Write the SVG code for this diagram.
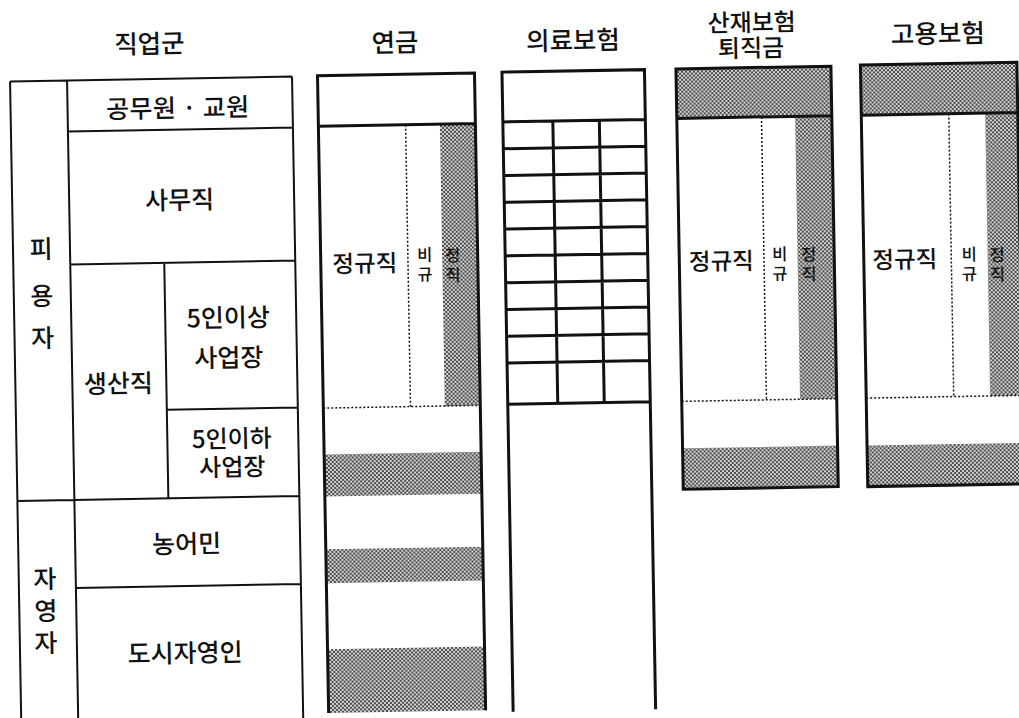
<svg xmlns="http://www.w3.org/2000/svg" width="1019" height="718" viewBox="0 0 1019 718">
<defs>
<pattern id="dots" width="4" height="4" patternUnits="userSpaceOnUse">
<rect width="4" height="4" fill="#d6d6d6"/>
<rect width="2" height="2" fill="#4a4a4a"/>
<rect x="2" y="2" width="2" height="2" fill="#4a4a4a"/>
</pattern>
</defs>
<style>
text{font-family:"Noto Sans CJK KR","Noto Sans",sans-serif;fill:#111;text-anchor:middle;font-weight:500}
.h{font-size:25.5px}
.h2{font-size:24px}
.t{font-size:25px}
.t2{font-size:24px}
.s{font-size:23.5px}
.v{font-size:16.5px}
.thin{stroke:#111;stroke-width:2;fill:none}
.thick{stroke:#111;stroke-width:3;fill:none}
.dot{stroke:#111;stroke-width:1.5;stroke-dasharray:2 2;fill:none}
.shade{fill:url(#dots)}
</style>
<rect width="1019" height="718" fill="#fff"/>
<g transform="rotate(-1 500 360)">
<g id="headers">
<text class="h" x="155" y="47">직업군</text>
<text class="h" x="400.5" y="50">연금</text>
<text class="h" x="578.5" y="51">의료보험</text>
<text class="h2" x="757.5" y="35.5">산재보험</text>
<text class="h2" x="756.5" y="61">퇴직금</text>
<text class="h" x="943.5" y="50.5">고용보험</text>
</g>
<g id="occupation-table">
<path class="thin" d="M15 73V740M72 73V740M297 73V740M15 73H297M72 124H297M72 257H297M166 257V492.5M166 404H297M15 492.5H297M72 580.5H297"/>
<text class="t" x="182" y="111.5" textLength="143" lengthAdjust="spacing">공무원 · 교원</text>
<text class="t" x="182.5" y="203.5">사무직</text>
<text class="t" x="43" y="250">피</text>
<text class="t" x="43" y="297">용</text>
<text class="t" x="43" y="339">자</text>
<text class="t" x="118" y="386">생산직</text>
<text class="t" x="229" y="322">5인이상</text>
<text class="t" x="229" y="362">사업장</text>
<text class="t2" x="230.5" y="442.5">5인이하</text>
<text class="t2" x="230.5" y="471">사업장</text>
<text class="t" x="183.5" y="547.5">농어민</text>
<text class="t" x="41" y="580">자</text>
<text class="t" x="41.5" y="612">영</text>
<text class="t" x="41" y="644">자</text>
<text class="t" x="180" y="656.5">도시자영인</text>
</g>
<g id="pension">
<rect class="shade" x="444" y="123.2" width="35.5" height="281.8"/>
<rect class="shade" x="322.5" y="451.5" width="157" height="41.8"/>
<rect class="shade" x="322.5" y="546.3" width="157" height="34"/>
<rect class="shade" x="322.5" y="646.3" width="157" height="63.7"/>
<path class="dot" d="M409.7 123.2V405M322.5 405H479.5"/>
<path class="thick" d="M322.5 710V72.7H479.5V710M322.5 123.2H479.5"/>
<text class="s" x="366.5" y="269.5">정규직</text>
<text class="v" x="426.5" y="259.5">비</text>
<text class="v" x="454.5" y="260.5">정</text>
<text class="v" x="426.5" y="279">규</text>
<text class="v" x="454.5" y="280">직</text>
</g>
<g id="health-insurance">
<path class="thick" d="M507 712V72.2H649.5V712M507 122H649.5M557 122V404.3M603.5 122V404.3M507 148.8H649.5M507 175.6H649.5M507 202.4H649.5M507 229.2H649.5M507 256H649.5M507 282.8H649.5M507 309.6H649.5M507 336.4H649.5M507 363.2H649.5M507 404.3H649.5"/>
</g>
<g id="industrial-accident">
<rect class="shade" x="681" y="72" width="155" height="49.5"/>
<rect class="shade" x="799.3" y="121.5" width="36.7" height="283"/>
<rect class="shade" x="681" y="451.5" width="155" height="41"/>
<path class="dot" d="M765.7 121.5V404.5M681 404.5H836"/>
<path class="thick" d="M681 72H836V492.5H681ZM681 121.5H836"/>
<text class="s" x="723" y="273.5">정규직</text>
<text class="v" x="781.5" y="265">비</text>
<text class="v" x="810.5" y="266">정</text>
<text class="v" x="781.5" y="284.5">규</text>
<text class="v" x="810.5" y="285.5">직</text>
</g>
<g id="employment-insurance">
<rect class="shade" x="865.5" y="71.3" width="156.5" height="50.2"/>
<rect class="shade" x="989.4" y="121.5" width="32.6" height="283"/>
<rect class="shade" x="865.5" y="452" width="156.5" height="41"/>
<path class="dot" d="M953 121.5V404.5M865.5 404.5H1022"/>
<path class="thick" d="M865.5 71.3H1022V493H865.5ZM865.5 121.5H1022"/>
<text class="s" x="906.5" y="275">정규직</text>
<text class="v" x="971" y="268.5">비</text>
<text class="v" x="999" y="269.5">정</text>
<text class="v" x="971" y="288">규</text>
<text class="v" x="999" y="289">직</text>
</g>
</g>
</svg>
